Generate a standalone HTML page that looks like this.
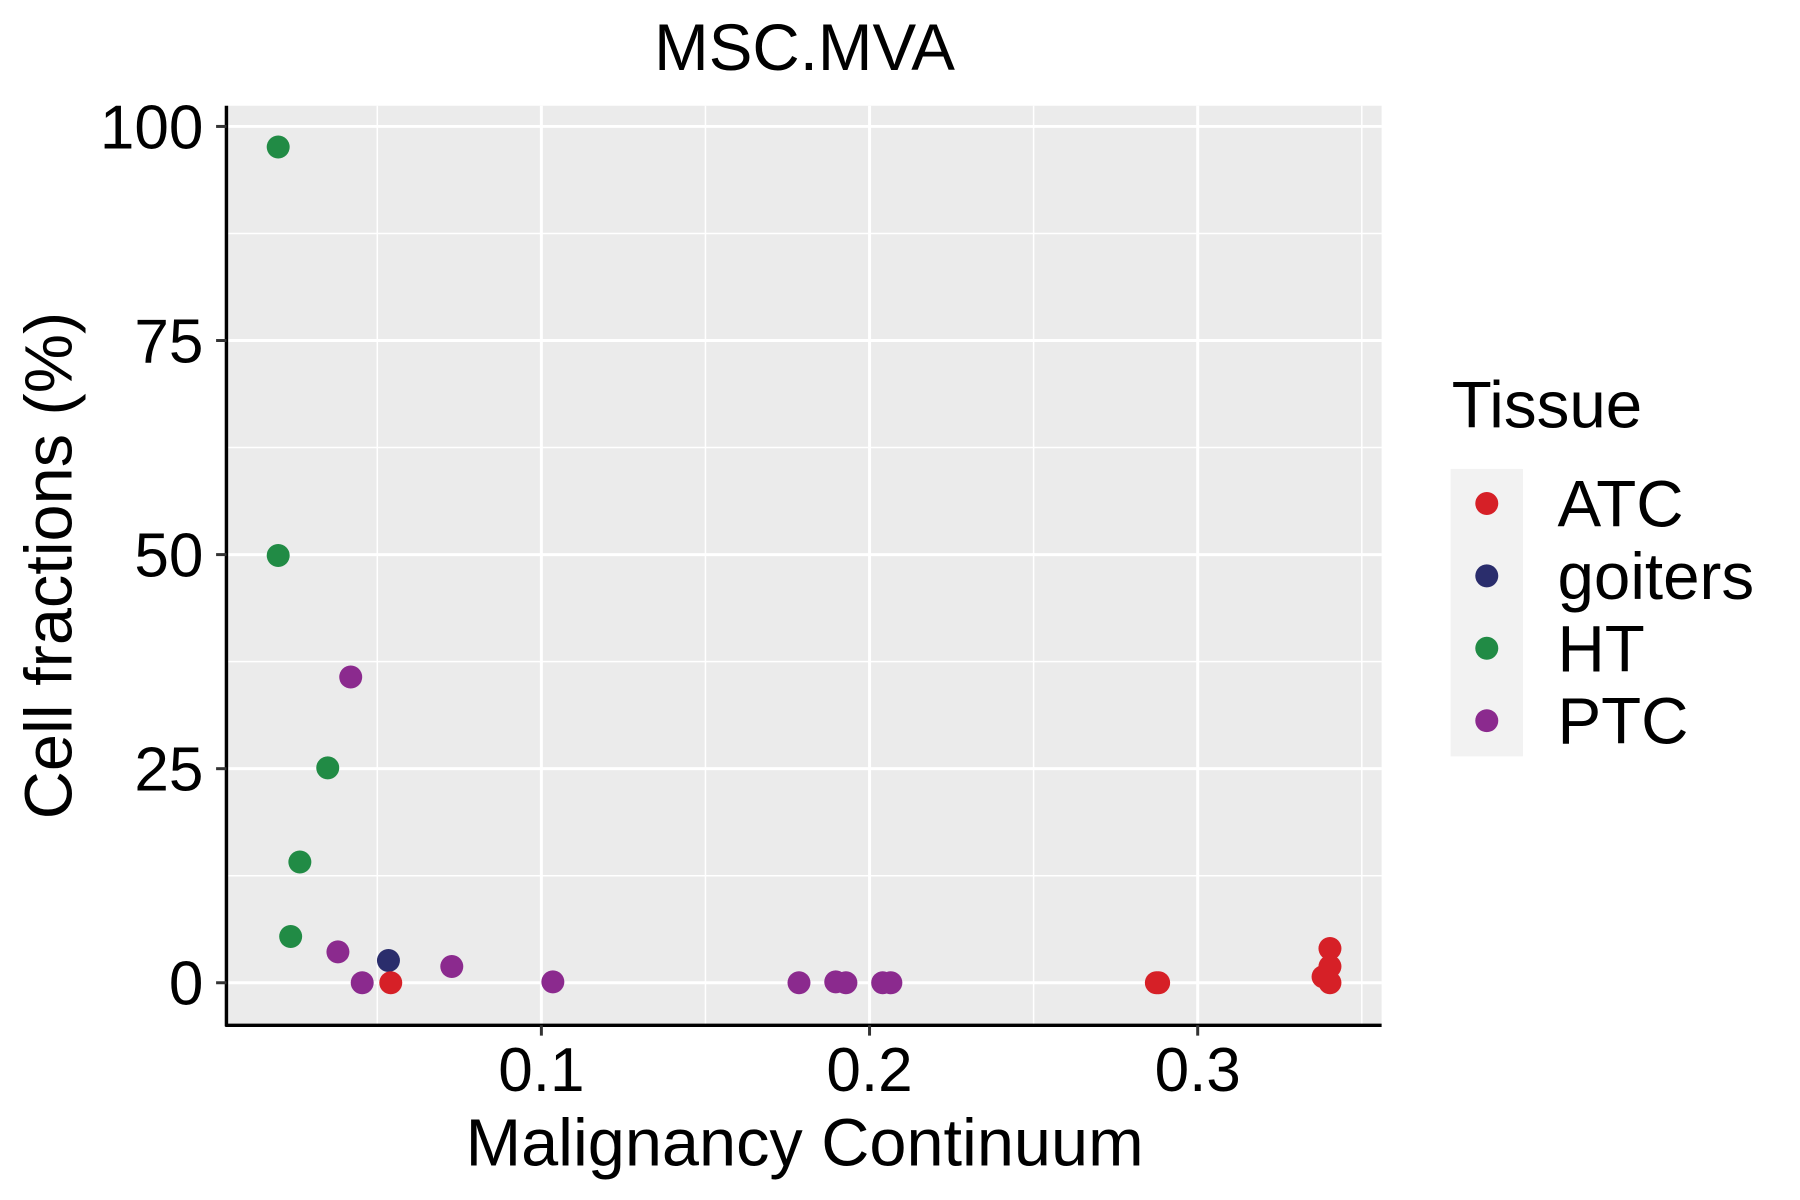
<!DOCTYPE html>
<html><head><meta charset="utf-8"><style>
html,body{margin:0;padding:0;background:#fff;}
svg{display:block;font-family:"Liberation Sans",Arial,sans-serif;}
</style></head><body>
<svg id="chart" width="1800" height="1200" viewBox="0 0 1566 1044" xmlns="http://www.w3.org/2000/svg">
<rect width="1566" height="1044" fill="#fff"/>
<text x="700" y="61" font-size="57" text-anchor="middle">MSC.MVA</text>
<rect x="197" y="92" width="1005" height="800" fill="#EBEBEB"/>
<g id="grid"></g>
<g id="points"></g>
<line x1="197" y1="92" x2="197" y2="893" stroke="#000" stroke-width="3"/>
<line x1="196" y1="892" x2="1202" y2="892" stroke="#000" stroke-width="3"/>
<g id="ticks"></g>
<text x="700" y="1014" font-size="58" text-anchor="middle">Malignancy Continuum</text>
<text transform="translate(62,492) rotate(-90)" font-size="58" text-anchor="middle">Cell fractions (%)</text>
<g>
<text x="1263" y="372" font-size="57">Tissue</text>
<rect x="1262" y="408" width="63" height="250" fill="#F2F2F2"/>
<g id="legend-entries"></g>
</g>
</svg>
<script>
const categories = ["ATC","goiters","HT","PTC"];
const colors = ["#D62027","#2A2D6C","#218B45","#8B2A8E"];
const xTicks = [0.1,0.2,0.3];
const xTickLabels = ["0.1","0.2","0.3"];
const yTicks = [0,25,50,75,100];
const yTickLabels = ["0","25","50","75","100"];
const xMinor = [0.05,0.15,0.25,0.35];
const yMinor = [12.5,37.5,62.5,87.5];
const ptTissue = ["HT","HT","HT","HT","HT","PTC","PTC","PTC","PTC","PTC","PTC","PTC","PTC","PTC","PTC","goiters","ATC","ATC","ATC","ATC","ATC","ATC","ATC"];
const ptX = [0.0198,0.0198,0.0349,0.0264,0.0236,0.0419,0.038,0.0454,0.0727,0.1035,0.1785,0.1897,0.1928,0.204,0.2065,0.0534,0.0541,0.2874,0.2881,0.3403,0.3403,0.3382,0.3403];
const ptY = [97.6,49.9,25.1,14.1,5.4,35.7,3.6,0,1.9,0.1,0,0.1,0,0,0,2.6,0,0,0,4.0,1.9,0.7,0];

const NS="http://www.w3.org/2000/svg";
const sx = v => 185.5 + v*2855;
const sy = v => 855 - v*7.45;
function mk(tag, attrs, parent){const e=document.createElementNS(NS,tag);for(const k in attrs)e.setAttribute(k,attrs[k]);parent.appendChild(e);return e;}
const grid=document.getElementById('grid'), ticks=document.getElementById('ticks'), pts=document.getElementById('points'), leg=document.getElementById('legend-entries');
xMinor.forEach(v=>{const l=mk('line',{x1:sx(v),x2:sx(v),y1:92,y2:892,stroke:'#fff','stroke-width':1.3},grid);

});
yMinor.forEach(v=>{const l=mk('line',{x1:197,x2:1202,y1:sy(v),y2:sy(v),stroke:'#fff','stroke-width':1.3},grid);

});
xTicks.forEach((v,i)=>{const l=mk('line',{x1:sx(v),x2:sx(v),y1:92,y2:892,stroke:'#fff','stroke-width':2.6},grid);


const t=mk('line',{x1:sx(v),x2:sx(v),y1:892,y2:901,stroke:'#333','stroke-width':2.6},ticks);


const tx=mk('text',{x:sx(v),y:949,'font-size':54,'text-anchor':'middle'},ticks);tx.textContent=xTickLabels[i];

});
yTicks.forEach((v,i)=>{const l=mk('line',{x1:197,x2:1202,y1:sy(v),y2:sy(v),stroke:'#fff','stroke-width':2.6},grid);


const t=mk('line',{x1:188,x2:197,y1:sy(v),y2:sy(v),stroke:'#333','stroke-width':2.6},ticks);


const tx=mk('text',{x:177,y:sy(v)+19,'font-size':54,'text-anchor':'end'},ticks);tx.textContent=yTickLabels[i];

});
ptX.forEach((v,i)=>{const c=mk('circle',{cx:sx(v),cy:sy(ptY[i]),r:10,fill:colors[categories.indexOf(ptTissue[i])]},pts);

});
categories.forEach((c,i)=>{const y=438+i*63;
const d=mk('circle',{cx:1293.5,cy:y,r:10,fill:colors[i]},leg);


const t=mk('text',{x:1355,y:y+20,'font-size':57},leg);t.textContent=c;

});
</script>
</body></html>
